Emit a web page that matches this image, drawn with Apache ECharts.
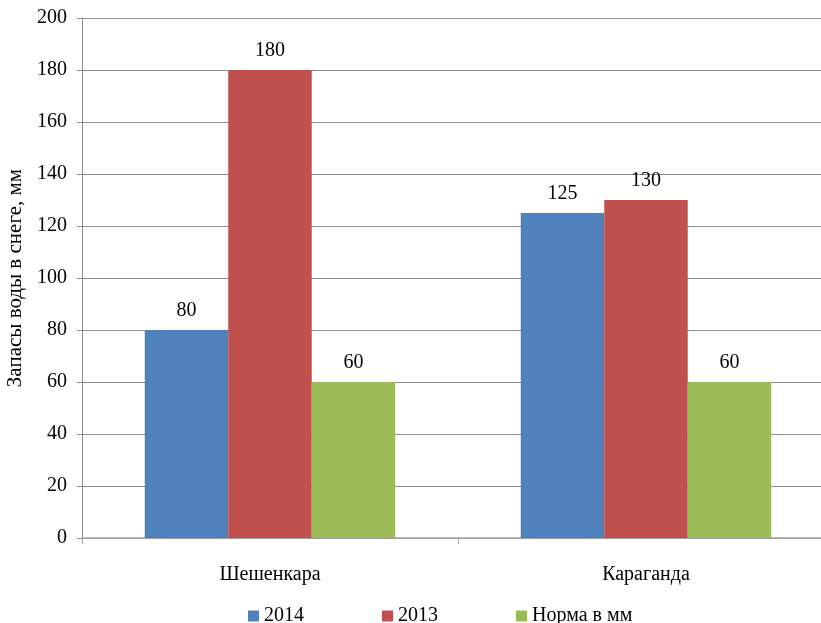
<!DOCTYPE html>
<html>
<head>
<meta charset="utf-8">
<script src="https://cdn.jsdelivr.net/npm/echarts@6/dist/echarts.min.js"></script>
<style>html,body{margin:0;padding:0;background:#fff}#c{width:821px;height:623px}</style>
</head>
<body>
<div id="c"></div>
<script>
const categories = ['Шешенкара', 'Караганда'];
const s2014 = [80, 125];
const s2013 = [180, 130];
const sNorm = [60, 60];
const seriesNames = ['2014', '2013', 'Норма в мм'];
const yTicks = { min: 0, max: 200, interval: 20 };

const FONT = '"Liberation Serif", "Times New Roman", serif';
const chart = echarts.init(document.getElementById('c'));
const lbl = { show: true, position: 'top', distance: 9, color: '#000', fontFamily: FONT, fontSize: 20 };
function bar(name, data, color) {
  return { name, type: 'bar', data, barWidth: 83.5, barGap: '0%', itemStyle: { color }, label: lbl, emphasis: { disabled: true } };
}
chart.setOption({
  animation: false,
  textStyle: { fontFamily: FONT },
  grid: { left: 82, top: 18, width: 752, height: 520, containLabel: false, outerBoundsMode: 'none' },
  legend: {
    left: 243, top: 601, itemWidth: 11, itemHeight: 11, itemGap: 78, icon: 'rect',
    textStyle: { fontFamily: FONT, fontSize: 20, color: '#000' },
    data: seriesNames
  },
  xAxis: {
    type: 'category', data: categories,
    axisLine: { lineStyle: { color: '#a6a6a6', width: 1.5 } },
    axisTick: { show: true, length: 6, lineStyle: { color: '#a6a6a6' } },
    axisLabel: { color: '#000', fontFamily: FONT, fontSize: 20, margin: 27 }
  },
  yAxis: {
    type: 'value', min: yTicks.min, max: yTicks.max, interval: yTicks.interval,
    name: 'Запасы воды в снеге, мм', nameLocation: 'middle', nameGap: 53, nameRotate: 90,
    nameTextStyle: { color: '#000', fontFamily: FONT, fontSize: 21 },
    axisLine: { show: true, lineStyle: { color: '#8c8c8c' } },
    axisTick: { show: true, length: 5, lineStyle: { color: '#8c8c8c' } },
    axisLabel: { color: '#000', fontFamily: FONT, fontSize: 20, margin: 15 },
    splitLine: { lineStyle: { color: '#8c8c8c' } }
  },
  series: [
    bar(seriesNames[0], s2014, '#4F81BD'),
    bar(seriesNames[1], s2013, '#C0504D'),
    bar(seriesNames[2], sNorm, '#9BBB59')
  ]
});
</script>
</body>
</html>
